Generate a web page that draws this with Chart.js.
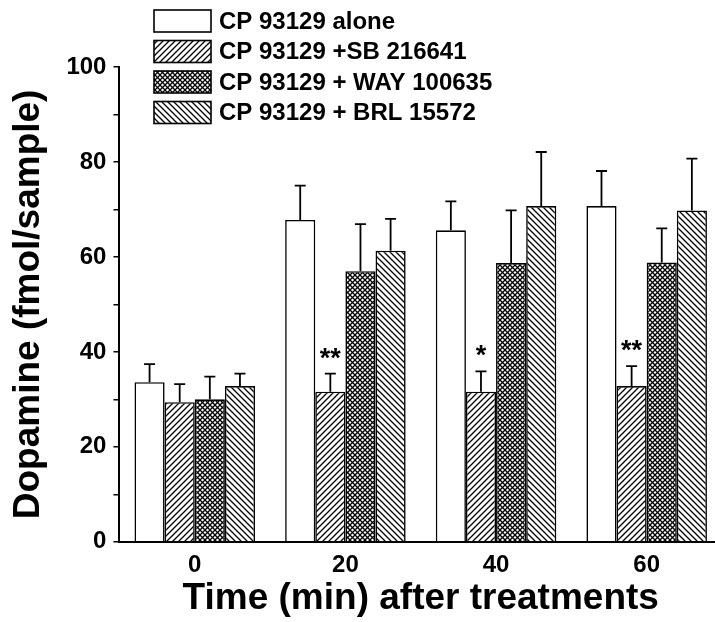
<!DOCTYPE html>
<html>
<head>
<meta charset="utf-8">
<script src="https://cdn.jsdelivr.net/npm/chart.js@4/dist/chart.umd.min.js"></script>
<style>
  html, body { margin: 0; padding: 0; background: #fff; overflow: hidden; }
  #wrap { width: 725px; height: 622px; position: relative; }
</style>
</head>
<body>
<div id="wrap"><canvas id="chart"></canvas></div>
<script>
// values (means and upper SEM)
const times = ["0", "20", "40", "60"]
const seriesNames = ["CP 93129 alone", "CP 93129 +SB 216641", "CP 93129 + WAY 100635", "CP 93129 + BRL 15572"]
const aloneMean = [33.6, 67.8, 65.6, 70.7]
const aloneErr  = [3.8, 7.2, 6.1, 7.4]
const sbMean    = [29.4, 31.6, 31.6, 32.8]
const sbErr     = [3.8, 3.8, 4.3, 4.2]
const wayMean   = [30.0, 57.0, 58.7, 58.8]
const wayErr    = [4.8, 9.9, 11.1, 7.2]
const brlMean   = [32.8, 61.3, 70.7, 69.8]
const brlErr    = [2.6, 6.7, 11.4, 10.9]
const sbStars   = ["", "**", "*", "**"]
const yTicks    = [0, 20, 40, 60, 80, 100]

const FONT = "'Liberation Sans', Arial, sans-serif"

// hatch fills, built on tiny canvases
function tile(size, draw) {
  const c = document.createElement("canvas")
  c.width = size; c.height = size
  const g = c.getContext("2d")
  g.fillStyle = "#fff"; g.fillRect(0, 0, size, size)
  g.strokeStyle = "#000"; g.lineCap = "square"
  draw(g, size)
  return document.createElement("canvas").getContext("2d").createPattern(c, "repeat")
}
const forward = (g, s) => {
  g.lineWidth = 1.3
  g.beginPath()
  g.moveTo(0, s); g.lineTo(s, 0)
  g.moveTo(-1, 1); g.lineTo(1, -1)
  g.moveTo(s - 1, s + 1); g.lineTo(s + 1, s - 1)
  g.stroke()
}
const backward = (g, s) => {
  g.lineWidth = 1.3
  g.beginPath()
  g.moveTo(0, 0); g.lineTo(s, s)
  g.moveTo(s - 1, -1); g.lineTo(s + 1, 1)
  g.moveTo(-1, s - 1); g.lineTo(1, s + 1)
  g.stroke()
}
const fillWhite = "#ffffff"
const fillSB  = tile(6, forward)
const fillWAY = tile(5, (g, s) => { forward(g, s); backward(g, s) })
const fillBRL = tile(6, backward)

const errs = [aloneErr, sbErr, wayErr, brlErr]

const errorBars = {
  id: "errorBars",
  afterDatasetsDraw(chart) {
    const { ctx, scales: { y } } = chart
    ctx.save()
    ctx.strokeStyle = "#000"
    ctx.lineWidth = 1.8
    chart.data.datasets.forEach((ds, i) => {
      chart.getDatasetMeta(i).data.forEach((bar, j) => {
        const top = y.getPixelForValue(ds.data[j] + errs[i][j])
        ctx.beginPath()
        ctx.moveTo(bar.x, bar.y)
        ctx.lineTo(bar.x, top)
        ctx.moveTo(bar.x - 5.5, top)
        ctx.lineTo(bar.x + 5.5, top)
        ctx.stroke()
        if (i === 1 && sbStars[j]) {
          ctx.fillStyle = "#000"
          ctx.font = "bold 27px " + FONT
          ctx.textAlign = "center"
          ctx.textBaseline = "bottom"
          ctx.fillText(sbStars[j], bar.x, top - 1)
        }
      })
    })
    ctx.restore()
  }
}

const boxLegend = {
  id: "boxLegend",
  afterDraw(chart) {
    const { ctx } = chart
    ctx.save()
    chart.data.datasets.forEach((ds, i) => {
      const cy = 21 + i * 30.5
      ctx.fillStyle = ds.backgroundColor
      ctx.fillRect(154, cy - 11, 57, 22)
      ctx.strokeStyle = "#000"
      ctx.lineWidth = 1.6
      ctx.strokeRect(154, cy - 11, 57, 22)
      ctx.fillStyle = "#000"
      ctx.font = "bold 24px " + FONT
      ctx.textAlign = "left"
      ctx.textBaseline = "middle"
      ctx.fillText(ds.label, 219, cy + 1)
    })
    ctx.restore()
  }
}

const bar = (i, data, fill) => ({
  label: seriesNames[i], data, backgroundColor: fill,
  borderColor: "#000", borderWidth: 1.6,
  categoryPercentage: 0.8, barPercentage: 1.0
})

new Chart(document.getElementById("chart"), {
  type: "bar",
  data: {
    labels: times,
    datasets: [
      bar(0, aloneMean, fillWhite),
      bar(1, sbMean, fillSB),
      bar(2, wayMean, fillWAY),
      bar(3, brlMean, fillBRL)
    ]
  },
  options: {
    responsive: true,
    maintainAspectRatio: false,
    animation: false,
    devicePixelRatio: 1,
    layout: { padding: { top: 67, left: 7, right: 3, bottom: 1 } },
    plugins: { legend: { display: false }, tooltip: { enabled: false } },
    scales: {
      x: {
        grid: { display: true, drawOnChartArea: false, drawTicks: false },
        border: { display: true, color: "#000", width: 2 },
        ticks: { color: "#000", padding: 9, font: { family: FONT, size: 24, weight: "bold" } },
        title: { display: true, text: "Time (min) after treatments", color: "#000", padding: { top: -12, bottom: 0 },
                 font: { family: FONT, size: 37, weight: "bold" } }
      },
      y: {
        min: 0, max: 100,
        grid: { drawOnChartArea: false, drawTicks: true, tickLength: 6, color: "#000", lineWidth: 1.5 },
        border: { display: true, color: "#000", width: 2 },
        ticks: {
          stepSize: 10, color: "#000", padding: 7,
          font: { family: FONT, size: 24, weight: "bold" },
          callback: v => yTicks.includes(v) ? v : ""
        },
        title: { display: true, text: "Dopamine (fmol/sample)", color: "#000", padding: { top: 0, bottom: 8 },
                 font: { family: FONT, size: 37, weight: "bold" } }
      }
    }
  },
  plugins: [errorBars, boxLegend]
})
</script>
</body>
</html>
